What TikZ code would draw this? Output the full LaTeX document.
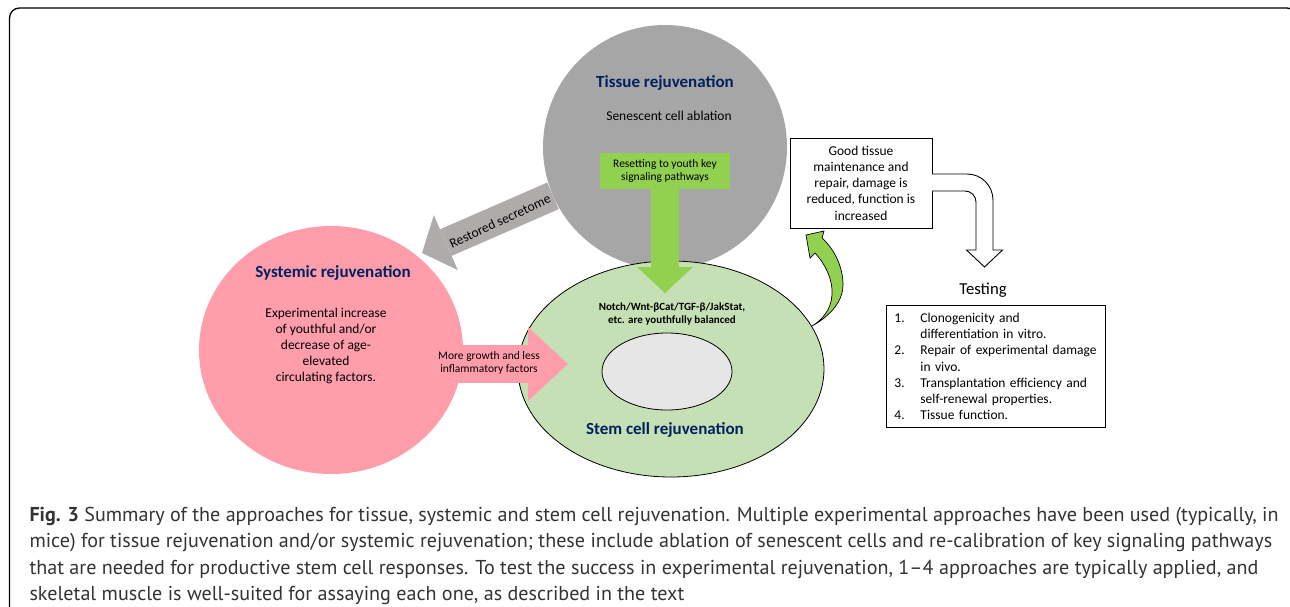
\documentclass[tikz,border=0pt]{standalone}
\usepackage{fontspec}
\setmainfont{Carlito}
\newfontfamily\capfont{PT Sans}
\usepackage{tikz}
\usetikzlibrary{shapes.geometric,arrows.meta,positioning}
\definecolor{navy}{RGB}{0,32,96}
\definecolor{tgray}{RGB}{166,166,166}
\definecolor{agray}{RGB}{175,171,171}
\definecolor{spink}{RGB}{255,158,170}
\definecolor{sgreen}{RGB}{197,224,180}
\definecolor{ngray}{RGB}{231,230,230}
\definecolor{lgreen}{RGB}{146,208,80}
\newcommand{\txtsz}{\fontsize{13.5}{16.2}\selectfont}
\newcommand{\smlsz}{\fontsize{11.5}{13.8}\selectfont}
\newcommand{\ttlsz}{\fontsize{17}{20}\selectfont}
\newcommand{\capsz}{\fontsize{20.1}{26.3}\selectfont}
\tikzset{blob/.style={ellipse,inner sep=0pt},
  ttl/.style={font=\ttlsz\bfseries,text=navy},
  txt/.style={font=\txtsz,align=center},
  box/.style={draw,line width=0.9pt,fill=white,inner sep=0pt},
  garrow/.style={draw=agray,line width=29pt,-{Triangle[width=60pt,length=26pt,line width=0pt]}},
  parrow/.style={draw=spink,line width=38pt,-{Triangle[width=74pt,length=40pt,line width=0pt]}},
  larrow/.style={draw=lgreen,line width=28pt,-{Triangle[width=56pt,length=26pt,line width=0pt]}}}

\begin{document}
\begin{tikzpicture}[x=1pt,y=-1pt]
    \useasboundingbox (0,0) rectangle (1290,607);
    \draw[line width=1.3pt,rounded corners=10pt] (9.5,8) rectangle (1297,640);

    % circles
    \node[blob,fill=tgray,minimum width=244pt,minimum height=244pt] (tissue) at (665,147) {};
    \node[blob,fill=spink,minimum width=264pt,minimum height=248pt] (systemic) at (331,350) {};
    \node[blob,draw,line width=0.8pt,fill=sgreen,minimum width=306pt,minimum height=216pt] (stem) at (671,369) {};
    \node[blob,draw,line width=0.8pt,fill=ngray,minimum width=130pt,minimum height=77pt] (niche) at (667,371.5) {};

    \coordinate (stip) at (422,253);
    \coordinate (ptip) at (568,364);
    \coordinate (dtip) at (665,293);

    \draw[garrow] (tissue) -- (stip);
    \draw[parrow] (systemic.center |- ptip) -- (ptip);

    \node[fill=lgreen,minimum width=130pt,minimum height=36pt,inner sep=0pt,align=center,font=\smlsz] (reset) at (665,171) {Resetting to youth key\\signaling pathways};
    \draw[larrow] (reset.south) -- (dtip);

    % curved arrow to the box
    \draw[fill=lgreen,line width=0.7pt] (812,326) .. controls (832,315) and (843,300) .. (843,285)
        .. controls (843,265) and (833,248) .. (822,238) -- (824,231) -- (806,235) -- (810,258) -- (815,253)
        .. controls (827,266) and (833,282) .. (832,295) .. controls (831,310) and (822,320) .. (812,326) -- cycle;

    \node[box,minimum width=142pt,minimum height=90pt,align=center,font=\txtsz] (good) at (861,183) {Good tissue\\maintenance and\\repair, damage is\\reduced, function is\\increased};

    % bent arrow to testing
    \draw[fill=white,line width=0.9pt] (932,174) -- (967,174) .. controls (981.4,174) and (993,185.6) .. (993,200)
        -- (993,250) -- (1002.5,250) -- (984.5,267) -- (966.5,250) -- (976,250) -- (976,202)
        .. controls (976,195.9) and (971.1,191) .. (965,191) -- (932,191);

    \node[font=\fontsize{16.7}{20}\selectfont] (testing) at (983,290) {Testing};
    \node[box,anchor=north west,minimum width=219pt,minimum height=122pt,text width=203pt,inner xsep=8pt,align=left,font=\txtsz] (tests) at (886,305)
        {\makebox[26pt][l]{1.}Clonogenicity and\\\hspace*{26pt}differentiation in vitro.\\
         \makebox[26pt][l]{2.}Repair of experimental damage\\\hspace*{26pt}in vivo.\\
         \makebox[26pt][l]{3.}Transplantation efficiency and\\\hspace*{26pt}self-renewal properties.\\
         \makebox[26pt][l]{4.}Tissue function.};

    % texts
    \node[ttl] (tissuettl) at (665,83) {Tissue rejuvenation};
    \node[txt] (ablation) at (669,116) {Senescent cell ablation};
    \node[txt,rotate=25] (secretome) at (500,221) {Restored secretome};
    \node[ttl] (systtl) at (333,273) {Systemic rejuvenation};
    \node[txt] (sysbody) at (326,346) {Experimental increase\\of youthful and/or\\decrease of age-\\elevated\\circulating factors.};
    \node[font=\smlsz,align=center] (growth) at (489,363) {More growth and less\\inflammatory factors};
    \node[font=\fontsize{11}{13}\selectfont\bfseries,align=center] (balance) at (672,314) {Notch/Wnt-βCat/TGF-β/JakStat,\\etc. are youthfully balanced};
    \node[ttl] (stemttl) at (665,430) {Stem cell rejuvenation};

    \node[anchor=base west,align=left,font=\capfont\capsz,text=black!80] (caption) at (26,600.3)
        {\textbf{Fig. 3} Summary of the approaches for tissue, systemic and stem cell rejuvenation. Multiple experimental approaches have been used (typically, in\\
         mice) for tissue rejuvenation and/or systemic rejuvenation; these include ablation of senescent cells and re-calibration of key signaling pathways\\
         that are needed for productive stem cell responses. To test the success in experimental rejuvenation, 1–4 approaches are typically applied, and\\
         skeletal muscle is well-suited for assaying each one, as described in the text};
\end{tikzpicture}
\end{document}
